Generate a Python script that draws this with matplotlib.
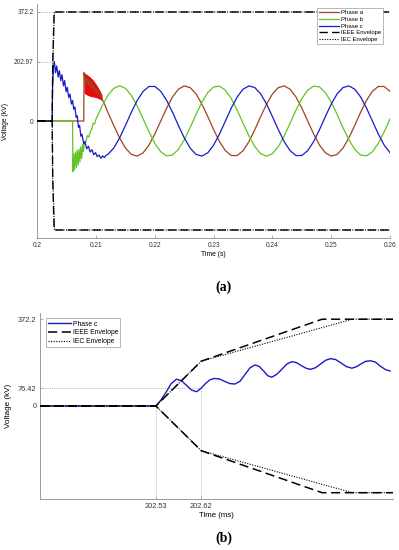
import numpy as np
import matplotlib
matplotlib.use("Agg")
from matplotlib import pyplot as plt

# ---- (a) : temps en ms, tensions en kV ----
t_a = [200.0, 207.9, 207.95, 208.1, 208.25, 208.4, 208.55, 208.7, 208.85, 209.0, 209.2, 209.4,
       209.6, 209.8, 210.0, 210.2, 210.4, 210.6, 210.8, 211.0, 211.5] + list(range(212, 261))
v_a = [0, 0, 165, 138, 152, 128, 145, 122, 138, 115, 130, 108, 121, 100, 112, 94, 103, 86, 92, 76, 55,
       29.8, -15.0, -57.8, -92.5, -114.1, -119.8, -108.6, -82.1, -44.2, 0, 44.2, 82.1, 108.6, 119.8,
       114.1, 92.5, 57.8, 15.0, -29.8, -70.5, -101.3, -117.9, -117.9, -101.3, -70.5, -29.8, 15.0, 57.8,
       92.5, 114.1, 119.8, 108.6, 82.1, 44.2, 0, -44.2, -82.1, -108.6, -119.8, -114.1, -92.5, -57.8,
       -15.0, 29.8, 70.5, 101.3, 117.9, 117.9, 101.3]

# zone bruitée de la phase a (bande rouge)
t_rouge = [207.95, 208.5, 209.0, 209.5, 210.0, 210.5, 211.0]
haut_rouge = [165, 158, 150, 140, 126, 110, 90]
bas_rouge = [95, 88, 84, 82, 80, 76, 70]

t_b = [200.0, 206.0, 206.05, 206.2, 206.35, 206.5, 206.65, 206.8, 206.95, 207.1, 207.25, 207.4,
       207.55, 207.7, 207.85, 208.0, 208.25, 208.5, 208.75, 209.0, 209.25, 209.5, 209.75, 210.0,
       210.5, 211.0] + list(range(212, 261))
v_b = [0, 0, -173, -112, -166, -106, -158, -100, -150, -96, -140, -88, -128, -80, -104, -76.5,
       -72, -50, -55, -37.1, -28, -8, -10, 7.5, 28, 51.1,
       87.5, 111.6, 120, 111.6, 87.5, 51.1, 7.5, -37.1, -76.5, -105.2, -119.1, -116.2, -97.1, -64.3,
       -22.5, 22.5, 64.3, 97.1, 116.2, 119.1, 105.2, 76.5, 37.1, -7.5, -51.1, -87.5, -111.6, -120,
       -111.6, -87.5, -51.1, -7.5, 37.1, 76.5, 105.2, 119.1, 116.2, 97.1, 64.3, 22.5, -22.5, -64.3,
       -97.1, -116.2, -119.1, -105.2, -76.5, -37.1, 7.5]

t_c = [200.0, 202.53, 202.6, 202.75, 202.9, 203.1, 203.3, 203.55, 203.75, 204.0, 204.2, 204.45,
       204.65, 204.9, 205.1, 205.35, 205.55, 205.8, 206.0, 206.2, 206.4, 206.6, 206.8, 207.0, 207.2,
       207.4, 207.6, 207.9, 208.1, 208.4, 208.7, 209.0, 209.3, 209.6, 209.9, 210.2, 210.5, 210.8,
       211.1, 211.4, 211.7] + list(range(212, 261))
v_c = [0, 0, 120, 185, 202.97, 165, 188, 150, 172, 138, 158, 120, 138, 100, 115, 80, 92, 58, 70,
       40, 48, 12, 18, -22, -15, -52, -45, -78, -70, -95, -86, -106, -98, -115, -108, -122, -116,
       -127, -119, -125, -117,
       -114.1, -92.5, -57.8, -15.0, 29.8, 70.5, 101.3, 117.9, 117.9, 101.3, 70.5, 29.8, -15.0, -57.8,
       -92.5, -114.1, -119.8, -108.6, -82.1, -44.2, 0, 44.2, 82.1, 108.6, 119.8, 114.1, 92.5, 57.8,
       15.0, -29.8, -70.5, -101.3, -117.9, -117.9, -101.3, -70.5, -29.8, 15.0, 57.8, 92.5, 114.1,
       119.8, 108.6, 82.1, 44.2, 0, -44.2, -82.1, -108.6]

# ---- (b) : zoom sur la phase c ----
t_zoom = [202.30, 202.53, 202.54, 202.55, 202.56, 202.571, 202.581, 202.591, 202.601, 202.611,
          202.62, 202.628, 202.637, 202.646, 202.656, 202.666, 202.677, 202.687, 202.697, 202.707,
          202.717, 202.727, 202.735, 202.744, 202.752, 202.760, 202.770, 202.780, 202.790, 202.800,
          202.809, 202.818, 202.828, 202.837, 202.847, 202.857, 202.867, 202.877, 202.887, 202.898,
          202.908, 202.919, 202.928, 202.937, 202.946, 202.956, 202.966, 202.976, 202.986, 202.995]
v_zoom = [0, 0, 25, 58, 95, 115, 108, 88, 68, 61, 76.42, 95, 112, 118, 116, 106, 96, 94, 106, 135,
          164, 176, 170, 150, 130, 123, 136, 157, 180, 190, 186, 174, 162, 157, 164, 180, 196, 203,
          199, 184, 169, 162, 168, 180, 191, 194, 188, 170, 156, 150]

# Enveloppes (ms, kV)
t_ieee = [200.0, 202.53, 202.62, 202.86, 260.0]
v_ieee = [0, 0, 192, 372.2, 372.2]
t_iec = [200.0, 202.53, 202.62, 202.92, 260.0]
v_iec = [0, 0, 192, 372.2, 372.2]

yticks_a = [0, 202.97, 372.2]
yticks_b = [0, 76.42, 372.2]
xticks_b = [202.53, 202.62]

COUL_A = '#a3411e'
COUL_B = '#62c424'
COUL_C = '#1a1ac8'
GUIDE = '#a8a8a8'
DASH = (0, (6, 3))
DOT = (0, (1, 1.3))

plt.rcParams['font.family'] = ['Liberation Sans', 'DejaVu Sans']
fig = plt.figure(figsize=(3.99, 5.5), dpi=100)
ax1 = fig.add_axes([0.0935, 0.567, 0.884, 0.426])
ax2 = fig.add_axes([0.1003, 0.0924, 0.8837, 0.339])

def s(lst):
    return np.array(lst) / 1000.0

# --- panneau (a)
ax1.plot([0.2, 0.20286], [372.2, 372.2], color=GUIDE, lw=0.6, ls=DOT)
ax1.plot([0.2, 0.2029], [202.97, 202.97], color=GUIDE, lw=0.6, ls=DOT)
ax1.fill_between(s(t_rouge), bas_rouge, haut_rouge, color='#e80a0a', lw=0, zorder=2)
ax1.plot(s(t_a), v_a, color=COUL_A, lw=0.9, label='Phase a', zorder=3)
ax1.plot(s(t_b), v_b, color=COUL_B, lw=0.9, label='Phase b', zorder=3)
ax1.plot(s(t_c), v_c, color=COUL_C, lw=0.9, label='Phase c', zorder=3)
ax1.plot(s(t_ieee), v_ieee, color='k', lw=1.0, ls=DASH, label='IEEE Envelope', zorder=4)
ax1.plot(s(t_ieee), -np.array(v_ieee), color='k', lw=1.0, ls=DASH, zorder=4)
ax1.plot(s(t_iec), v_iec, color='k', lw=0.8, ls=DOT, label='IEC Envelope', zorder=4)
ax1.plot(s(t_iec), -np.array(v_iec), color='k', lw=0.8, ls=DOT, zorder=4)
ax1.set_xlim(0.2, 0.26)
ax1.set_ylim(-400, 400)
ax1.set_yticks(yticks_a)
ax1.set_yticklabels(['0', '202.97', '372.2'])
ax1.set_xticks([0.2, 0.21, 0.22, 0.23, 0.24, 0.25, 0.26])
ax1.set_xticklabels(['0.2', '0.21', '0.22', '0.23', '0.24', '0.25', '0.26'])
ax1.set_xlabel('Time (s)', fontsize=4.9, labelpad=2)
ax1.set_ylabel('Voltage (kV)', fontsize=4.9, labelpad=4)
leg1 = ax1.legend(loc='upper right', bbox_to_anchor=(0.980, 0.982), fontsize=4.3, frameon=True,
                  fancybox=False, handlelength=3.3, borderpad=0.35, labelspacing=0.25,
                  handletextpad=0.3, borderaxespad=0)

# --- panneau (b)
ax2.plot([202.53, 202.53], [-400, 0], color=GUIDE, lw=0.6, ls=DOT)
ax2.plot([202.62, 202.62], [-400, 76.42], color=GUIDE, lw=0.6, ls=DOT)
ax2.plot([202.3, 202.62], [76.42, 76.42], color=GUIDE, lw=0.6, ls=DOT)
ax2.plot(t_zoom, v_zoom, color=COUL_C, lw=1.0, label='Phase c', zorder=3)
ax2.plot(t_ieee, v_ieee, color='k', lw=1.1, ls=DASH, label='IEEE Envelope', zorder=4)
ax2.plot(t_ieee, -np.array(v_ieee), color='k', lw=1.1, ls=DASH, zorder=4)
ax2.plot(t_iec, v_iec, color='k', lw=0.8, ls=DOT, label='IEC Envelope', zorder=4)
ax2.plot(t_iec, -np.array(v_iec), color='k', lw=0.8, ls=DOT, zorder=4)
ax2.set_xlim(202.3, 203.0)
ax2.set_ylim(-400, 400)
ax2.set_yticks(yticks_b)
ax2.set_yticklabels(['0', '76.42', '372.2'])
ax2.set_xticks(xticks_b)
ax2.set_xticklabels(['202.53', '202.62'])
ax2.set_xlabel('Time (ms)', fontsize=5.6, labelpad=2)
ax2.set_ylabel('Voltage (kV)', fontsize=5.9, labelpad=4)
leg2 = ax2.legend(loc='upper left', bbox_to_anchor=(0.016, 0.970), fontsize=4.9, frameon=True,
                  fancybox=False, handlelength=3.3, borderpad=0.35, labelspacing=0.25,
                  handletextpad=0.3, borderaxespad=0)

for ax, leg, fs in ((ax1, leg1, 4.7), (ax2, leg2, 5.3)):
    for side in ('top', 'right'):
        ax.spines[side].set_visible(False)
    for side in ('left', 'bottom'):
        ax.spines[side].set_color('#8a8a8a')
        ax.spines[side].set_linewidth(0.6)
    ax.tick_params(direction='in', length=2, width=0.5, colors='#8a8a8a',
                   labelcolor='#333333', labelsize=fs, pad=2.5)
    fr = leg.get_frame()
    fr.set_edgecolor('#9a9a9a')
    fr.set_linewidth(0.5)
    fr.set_alpha(1)

fig.text(0.561, 0.478, '(a)', ha='center', va='center', fontsize=10, fontweight='bold',
         family=['Liberation Serif', 'DejaVu Serif'])
fig.text(0.561, 0.022, '(b)', ha='center', va='center', fontsize=10, fontweight='bold',
         family=['Liberation Serif', 'DejaVu Serif'])

fig.savefig('out.png', dpi=100)
